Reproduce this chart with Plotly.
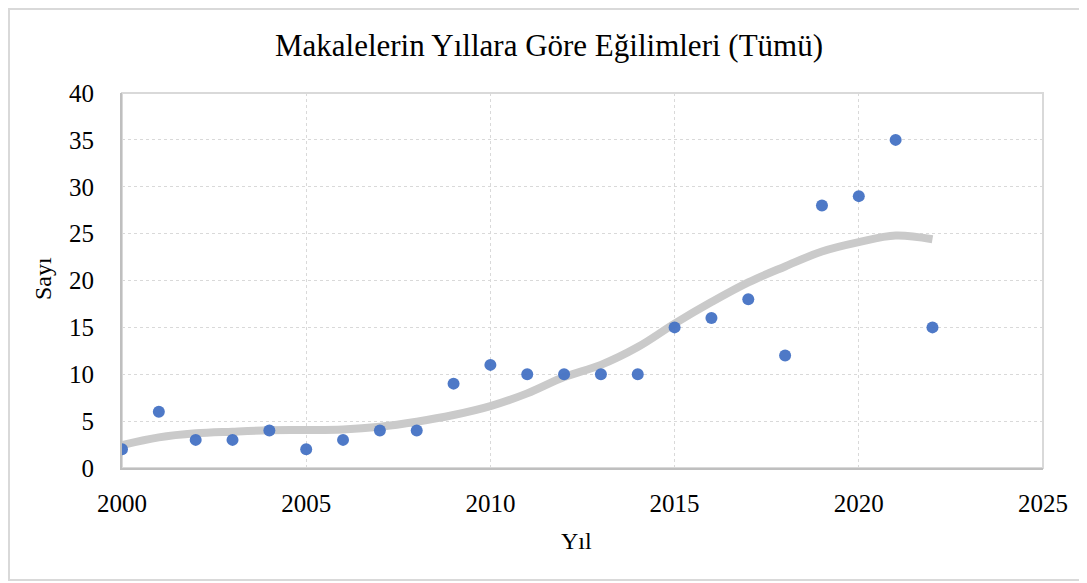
import plotly.graph_objects as go

years = list(range(2000, 2023))
counts = [2, 6, 3, 3, 4, 2, 3, 4, 4, 9, 11, 10, 10, 10, 10, 15, 16, 18, 12, 28, 29, 35, 15]
trend = [2.45, 3.27, 3.7, 3.88, 4.02, 4.05, 4.12, 4.41, 4.94, 5.65, 6.6, 7.96, 9.7,
         11.0, 12.9, 15.4, 17.7, 19.8, 21.5, 23.1, 24.1, 24.8, 24.4]

title_text = "Makalelerin Yıllara Göre Eğilimleri (Tümü)"
x_title = "Yıl"
y_title = "Sayı"

W, H = 1087, 583
OFF = 8  # page offset (body margin)
L, T = 122 - OFF, 93 - OFF
pw, ph = 921, 375
R = W - L - pw
B = H - T - ph

font = "Liberation Serif, Times New Roman, serif"

fig = go.Figure()
fig.add_trace(go.Scatter(x=years, y=trend, mode="lines", line=dict(color="#CACACA", width=8, shape="spline"),
                         hoverinfo="skip", showlegend=False))
fig.add_trace(go.Scatter(x=years, y=counts, mode="markers",
                         marker=dict(color="#4472C4", size=12, opacity=0.95), showlegend=False))

def fx(page_x):
    return (page_x - OFF - L) / pw

def fy(page_y):
    return (T + ph - (page_y - OFF)) / ph

fig.update_layout(
    width=W, height=H,
    margin=dict(l=L, r=R, t=T, b=B),
    paper_bgcolor="white", plot_bgcolor="white",
    font=dict(family=font, color="#000000", size=25),
    title=dict(text=title_text, x=fx(549), xref="paper", xanchor="center",
               y=1 - (45 - OFF) / H, yanchor="middle",
               font=dict(family=font, size=31, color="#000000")),
    xaxis=dict(range=[2000, 2025], dtick=5, tick0=2000, showgrid=True, gridcolor="#D9D9D9", griddash="dot",
               gridwidth=1.3, showline=True, linecolor="#BFBFBF", linewidth=2, zeroline=False, ticks="",
               ticklabelstandoff=12, tickfont=dict(size=25)),
    yaxis=dict(range=[0, 40], dtick=5, tick0=0, showgrid=True, gridcolor="#D9D9D9", griddash="dot",
               gridwidth=1.3, showline=True, linecolor="#BFBFBF", linewidth=2, zeroline=False, ticks="",
               ticklabelstandoff=21, tickfont=dict(size=25)),
    annotations=[
        dict(text=x_title, xref="paper", yref="paper", x=fx(576), y=fy(541), xanchor="center", yanchor="middle",
             showarrow=False, font=dict(size=24)),
        dict(text=y_title, xref="paper", yref="paper", x=fx(43), y=fy(279), xanchor="center", yanchor="middle",
             showarrow=False, textangle=-90, font=dict(size=24)),
    ],
    shapes=[
        dict(type="rect", xref="paper", yref="paper", x0=0, x1=1, y0=0, y1=1,
             line=dict(color="#D9D9D9", width=2), layer="below"),
        dict(type="rect", xref="paper", yref="paper", x0=fx(9), x1=fx(1080), y0=fy(580), y1=fy(9),
             line=dict(color="#D9D9D9", width=2), layer="below"),
    ],
)

fig.write_html("out.html")
